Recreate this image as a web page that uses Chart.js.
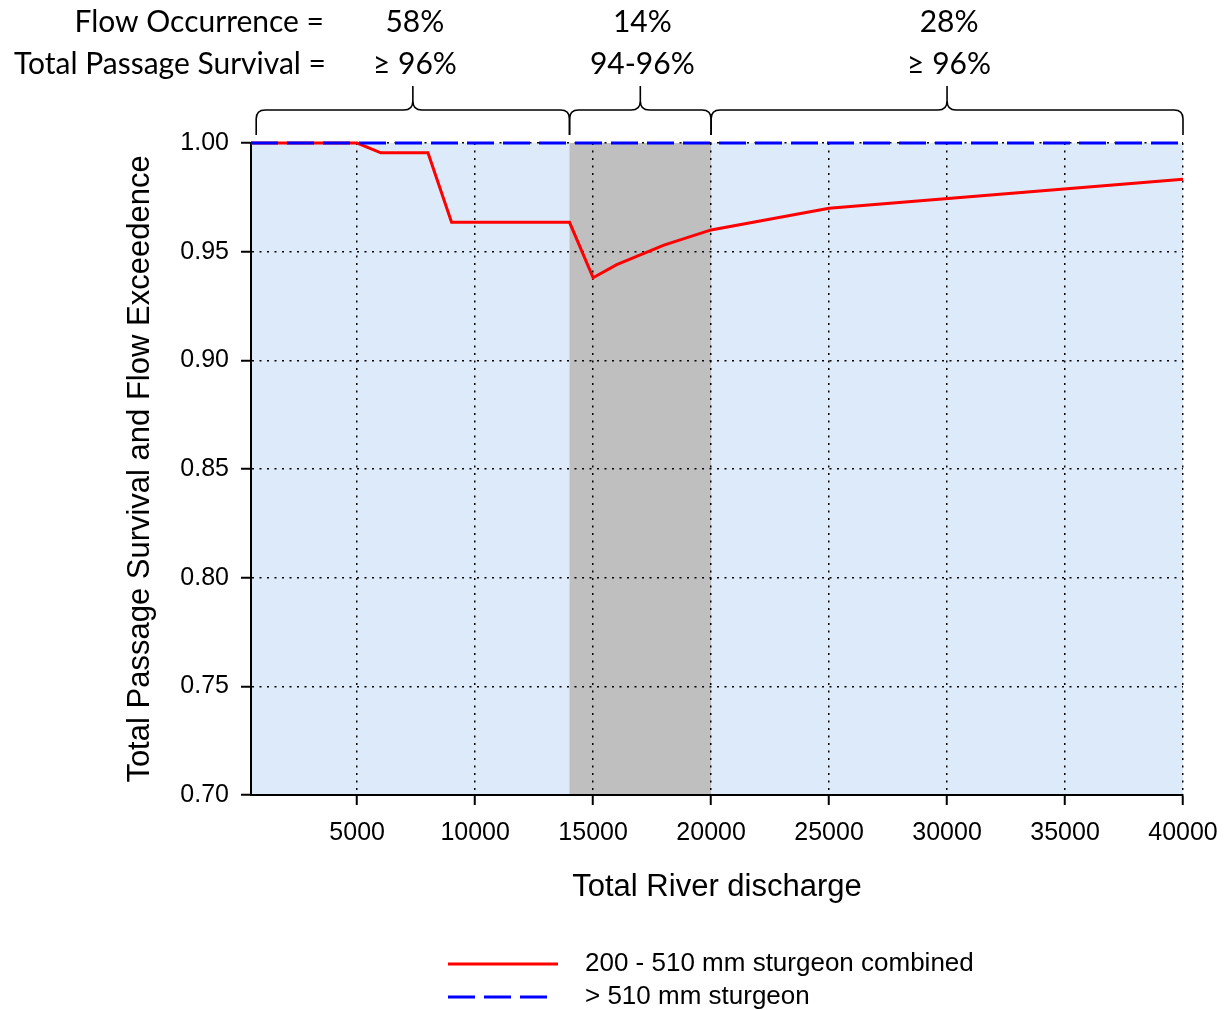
<!DOCTYPE html>
<html>
<head>
<meta charset="utf-8">
<script src="https://cdn.jsdelivr.net/npm/chart.js@4/dist/chart.umd.min.js"></script>
<style>
  html, body { margin: 0; padding: 0; background: #ffffff; }
  #wrap { width: 1228px; height: 1010px; }
</style>
</head>
<body>
<div id="wrap"><canvas id="c" width="1228" height="1010"></canvas></div>
<script>
// ---- data ----
const discharge = [500, 5000, 6000, 8000, 9000, 14000, 15000, 16000, 18000, 20000, 25000, 40000];
const survivalSmall = [1.0, 1.0, 0.9955, 0.9955, 0.9635, 0.9635, 0.938, 0.944, 0.953, 0.96, 0.970, 0.9833];
const dischargeLarge = [500, 40000];
const survivalLarge = [1.0, 1.0];
const seriesNames = ['200 - 510 mm sturgeon combined', '> 510 mm sturgeon'];
const xTicks = [5000, 10000, 15000, 20000, 25000, 30000, 35000, 40000];
const yTicks = [0.70, 0.75, 0.80, 0.85, 0.90, 0.95, 1.00];
const shadedRange = [14000, 20000];
const braceEdges = [720, 14000, 20000, 40000];
const flowOccurrence = ['58%', '14%', '28%'];
const passageSurvival = ['\u2265 96%', '94-96%', '\u2265 96%'];
const rowLabels = ['Flow Occurrence =', 'Total Passage Survival ='];
const xTitle = 'Total River discharge';
const yTitle = 'Total Passage Survival and Flow Exceedence';

const RED = '#ff0000';
const BLUE = '#0000ff';
const AX_FONT = '"Liberation Sans", Arial, sans-serif';
const TOP_FONT = 'Lato, "Open Sans", sans-serif';

const decor = {
  id: 'decor',
  beforeDraw(chart) {
    const {ctx, chartArea: a, scales: {x}} = chart;
    ctx.save();
    ctx.fillStyle = '#dceafa';
    ctx.fillRect(a.left, a.top, a.right - a.left, a.bottom - a.top);
    const b0 = x.getPixelForValue(shadedRange[0]);
    const b1 = x.getPixelForValue(shadedRange[1]);
    ctx.fillStyle = '#bfbfbf';
    ctx.fillRect(b0, a.top, b1 - b0, a.bottom - a.top);
    ctx.restore();
  },
  afterDraw(chart) {
    const {ctx, chartArea: a, scales: {x}} = chart;
    ctx.save();
    // braces
    ctx.strokeStyle = '#000';
    ctx.lineWidth = 1.6;
    const yh = 110, yEnd = 135, yTip = 86, r = 9;
    for (let i = 0; i < braceEdges.length - 1; i++) {
      const x1 = x.getPixelForValue(braceEdges[i]);
      const x2 = x.getPixelForValue(braceEdges[i + 1]);
      const xm = (x1 + x2) / 2;
      ctx.beginPath();
      ctx.moveTo(x1, yEnd);
      ctx.lineTo(x1, yh + r);
      ctx.quadraticCurveTo(x1, yh, x1 + r, yh);
      ctx.lineTo(xm - r, yh);
      ctx.quadraticCurveTo(xm, yh, xm, yh - r);
      ctx.lineTo(xm, yTip);
      ctx.moveTo(xm, yh - r);
      ctx.quadraticCurveTo(xm, yh, xm + r, yh);
      ctx.lineTo(x2 - r, yh);
      ctx.quadraticCurveTo(x2, yh, x2, yh + r);
      ctx.lineTo(x2, yEnd);
      ctx.stroke();
      // texts
      ctx.fillStyle = '#000';
      ctx.font = '30px ' + TOP_FONT;
      ctx.textAlign = 'center';
      ctx.textBaseline = 'middle';
      ctx.fillText(flowOccurrence[i], xm + 2, 22);
      ctx.fillText(passageSurvival[i], xm + 2, 64);
    }
    ctx.textAlign = 'right';
    ctx.fillText(rowLabels[0], 324, 22);
    ctx.fillText(rowLabels[1], 326, 64);

    // axis titles
    ctx.font = '31px ' + AX_FONT;
    ctx.textAlign = 'center';
    ctx.textBaseline = 'middle';
    ctx.fillText(xTitle, (a.left + a.right) / 2, 887);
    ctx.save();
    ctx.translate(140, (a.top + a.bottom) / 2);
    ctx.rotate(-Math.PI / 2);
    ctx.fillText(yTitle, 0, 0);
    ctx.restore();

    // legend
    const ds = chart.data.datasets;
    const rows = [{ds: ds[1], y: 964}, {ds: ds[0], y: 997}];
    ctx.font = '26px ' + AX_FONT;
    ctx.textAlign = 'left';
    rows.forEach(row => {
      ctx.save();
      ctx.strokeStyle = row.ds.borderColor;
      ctx.lineWidth = 3;
      ctx.setLineDash(row.ds.borderDash || []);
      ctx.beginPath();
      ctx.moveTo(448, row.y);
      ctx.lineTo(row.ds.borderDash ? 550 : 558, row.y);
      ctx.stroke();
      ctx.restore();
      ctx.fillStyle = '#000';
      ctx.fillText(row.ds.label, 585, row.y);
    });
    ctx.restore();
  }
};

new Chart(document.getElementById('c'), {
  type: 'line',
  data: {
    datasets: [
      {
        label: seriesNames[1],
        data: dischargeLarge.map((v, i) => ({x: v, y: survivalLarge[i]})),
        borderColor: BLUE,
        borderWidth: 3,
        borderDash: [27, 9],
        pointRadius: 0,
        clip: false,
        order: 0
      },
      {
        label: seriesNames[0],
        data: discharge.map((v, i) => ({x: v, y: survivalSmall[i]})),
        borderColor: RED,
        borderWidth: 3,
        pointRadius: 0,
        clip: false,
        order: 1
      }
    ]
  },
  options: {
    responsive: false,
    animation: false,
    layout: {padding: {left: 0, right: 45, top: 143, bottom: 0}},
    plugins: {legend: {display: false}, tooltip: {enabled: false}},
    scales: {
      x: {
        type: 'linear',
        min: 500,
        max: 40000,
        afterBuildTicks: s => { s.ticks = xTicks.map(v => ({value: v})); },
        afterFit: s => { s.height = 215; s.paddingRight = 0; s.paddingLeft = 0; },
        ticks: {
          callback: v => String(v),
          color: '#000',
          font: {family: AX_FONT, size: 25},
          padding: 13,
          maxRotation: 0,
          autoSkip: false
        },
        grid: {color: '#000', lineWidth: 1.5, tickLength: 10, tickWidth: 2, tickColor: '#000'},
        border: {color: '#000', width: 2, dash: [2, 5.5]}
      },
      y: {
        min: 0.70,
        max: 1.00,
        afterBuildTicks: s => { s.ticks = yTicks.map(v => ({value: v})); },
        afterFit: s => { s.width = 251; s.paddingTop = 0; s.paddingBottom = 0; },
        ticks: {
          callback: v => v.toFixed(2),
          color: '#000',
          font: {family: AX_FONT, size: 25},
          padding: 12
        },
        grid: {color: '#000', lineWidth: 1.5, tickLength: 10, tickWidth: 2, tickColor: '#000'},
        border: {color: '#000', width: 2, dash: [2, 5.5]}
      }
    }
  },
  plugins: [decor]
});
</script>
</body>
</html>
